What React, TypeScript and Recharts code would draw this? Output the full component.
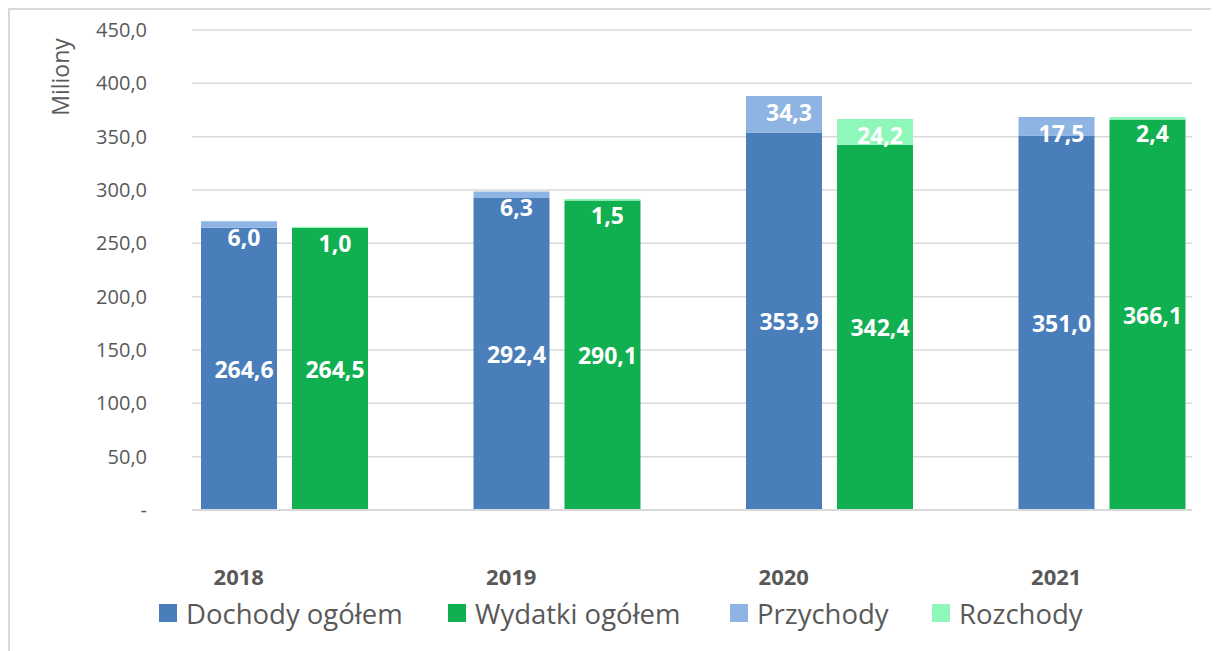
import React from "react";
import { BarChart, Bar, XAxis, YAxis, CartesianGrid, Legend, LabelList, Label } from "recharts";

const lata = ["2018", "2019", "2020", "2021"];
const dochody = [264.6, 292.4, 353.9, 351.0];
const przychody = [6.0, 6.3, 34.3, 17.5];
const wydatki = [264.5, 290.1, 342.4, 366.1];
const rozchody = [1.0, 1.5, 24.2, 2.4];
const osY = [0, 50, 100, 150, 200, 250, 300, 350, 400, 450];
const kolejnoscLegendy = ["Dochody ogółem", "Wydatki ogółem", "Przychody", "Rozchody"];

const data = lata.map((rok, i) => ({
  rok,
  dochody: dochody[i],
  przychody: przychody[i],
  wydatki: wydatki[i],
  rozchody: rozchody[i],
}));

const FONT = "'Open Sans', sans-serif";
const SZARY = "#595959";
const LINIA = "#d9d9d9";

const fmt = (v: number) => (v === 0 ? "-" : v.toFixed(1).replace(".", ","));

// szerokosci pozycji legendy (jak w oryginale z Excela)
const legendaSzer = [289, 282, 202, 160];

function etykietaSrodek(p: any) {
  const h = Math.abs(p.height);
  const top = Math.min(p.y, p.y + p.height);
  return (
    <text
      x={p.x + p.width / 2 + 5}
      y={top + h / 2}
      dominantBaseline="central"
      textAnchor="middle"
      fill="#fff"
      fontWeight={700}
      fontSize={23}
      fontFamily={FONT}
    >
      {fmt(Number(p.value))}
    </text>
  );
}

function etykietaGora(p: any) {
  const top = Math.min(p.y, p.y + p.height);
  return (
    <text
      x={p.x + p.width / 2 + 5}
      y={top + 9 + 16}
      textAnchor="middle"
      fill="#fff"
      fontWeight={700}
      fontSize={23}
      fontFamily={FONT}
    >
      {fmt(Number(p.value))}
    </text>
  );
}

function RokTick(props: any) {
  const { x, y, payload } = props;
  return (
    <text
      x={x - 45.5}
      y={y}
      dy="0.71em"
      textAnchor="middle"
      fill={SZARY}
      fontWeight={700}
      fontSize={22}
      fontFamily={FONT}
    >
      {payload.value}
    </text>
  );
}

function Legenda(props: any) {
  const items = [...(props.payload || [])].sort(
    (a: any, b: any) => kolejnoscLegendy.indexOf(a.value) - kolejnoscLegendy.indexOf(b.value)
  );
  return (
    <div style={{ height: 44, display: "flex", alignItems: "center", paddingLeft: 149 }}>
      {items.map((it: any, i: number) => (
        <div
          key={it.value}
          style={{ display: "flex", alignItems: "center", width: legendaSzer[i], flexShrink: 0 }}
        >
          <span style={{ width: 18, height: 18, background: it.color, marginRight: 9, flexShrink: 0 }} />
          <span style={{ fontSize: 27.5, color: SZARY, fontFamily: FONT, whiteSpace: "nowrap" }}>{it.value}</span>
        </div>
      ))}
    </div>
  );
}

export default function App() {
  return (
    <div
      style={{
        width: 1211,
        height: 643,
        borderTop: `2px solid ${LINIA}`,
        borderLeft: `2px solid ${LINIA}`,
        boxSizing: "border-box",
        background: "#fff",
      }}
    >
      <BarChart
        width={1209}
        height={633}
        data={data}
        barSize={76}
        barGap={15}
        margin={{ top: 20, right: 27, left: 30, bottom: 8 }}
        style={{ fontFamily: FONT }}
      >
        <CartesianGrid vertical={false} stroke={LINIA} strokeWidth={1.5} />
        <XAxis
          dataKey="rok"
          height={81}
          padding={{ left: -44, right: -46 }}
          axisLine={{ stroke: LINIA, strokeWidth: 2 }}
          tickLine={false}
          tickSize={0}
          tickMargin={59}
          tick={<RokTick />}
          interval={0}
        />
        <YAxis
          width={152}
          domain={[0, 450]}
          ticks={osY}
          interval={0}
          axisLine={false}
          tickLine={false}
          tickSize={0}
          tickMargin={45}
          tickFormatter={fmt}
          tick={{ fill: SZARY, fontSize: 20, fontFamily: FONT }}
        >
          <Label
            content={(p: any) => {
              const vb = p.viewBox || { x: 30, y: 20 };
              const cx = vb.x + 20;
              const cy = vb.y + 47;
              return (
                <text
                  transform={`translate(${cx}, ${cy}) rotate(-90)`}
                  textAnchor="middle"
                  dominantBaseline="central"
                  fill={SZARY}
                  fontSize={23}
                  fontFamily={FONT}
                >
                  Miliony
                </text>
              );
            }}
          />
        </YAxis>
        <Legend verticalAlign="bottom" content={<Legenda />} wrapperStyle={{ left: 0, width: 1209 }} />
        <Bar dataKey="dochody" name="Dochody ogółem" stackId="a" fill="#4a7ebb" isAnimationActive={false}>
          <LabelList dataKey="dochody" content={etykietaSrodek} />
        </Bar>
        <Bar dataKey="wydatki" name="Wydatki ogółem" stackId="b" fill="#10af50" isAnimationActive={false}>
          <LabelList dataKey="wydatki" content={etykietaSrodek} />
        </Bar>
        <Bar dataKey="przychody" name="Przychody" stackId="a" fill="#8eb4e3" isAnimationActive={false}>
          <LabelList dataKey="przychody" content={etykietaGora} />
        </Bar>
        <Bar dataKey="rozchody" name="Rozchody" stackId="b" fill="#8ff7ba" isAnimationActive={false}>
          <LabelList dataKey="rozchody" content={etykietaGora} />
        </Bar>
      </BarChart>
    </div>
  );
}
